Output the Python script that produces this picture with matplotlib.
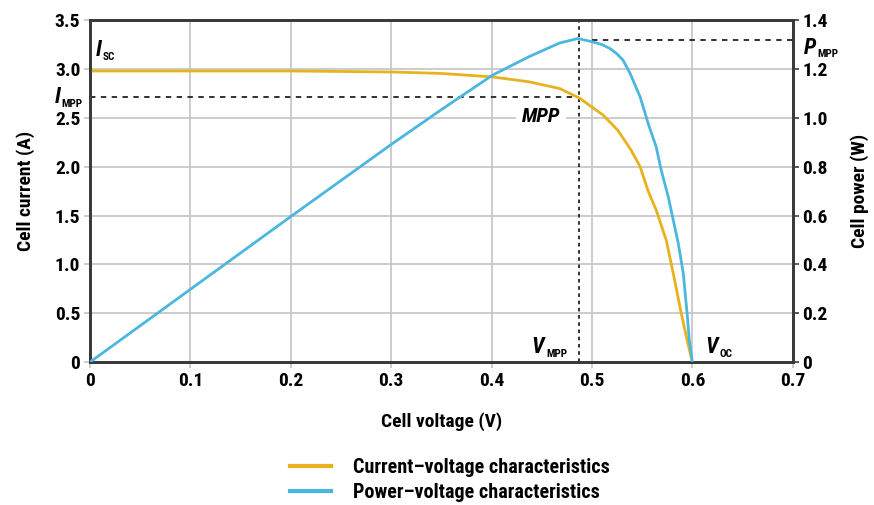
import matplotlib.pyplot as plt
from matplotlib import font_manager

# narrow bold face if one is installed, else DejaVu Sans
names = {f.name for f in font_manager.fontManager.ttflist}
fam = "DejaVu Sans"
for kand in ["Liberation Sans Narrow", "Roboto Condensed", "Open Sans Condensed", "DejaVu Sans Condensed"]:
    if kand in names:
        fam = kand
        break
plt.rcParams["font.family"] = [fam, "DejaVu Sans"]
plt.rcParams["font.weight"] = "bold"
plt.rcParams["axes.labelweight"] = "bold"
plt.rcParams["font.stretch"] = "condensed"

# data
v_iv = [0, 0.1, 0.2, 0.25, 0.3, 0.35, 0.4, 0.437, 0.468, 0.488, 0.5, 0.511, 0.526, 0.539,
        0.548, 0.556, 0.564, 0.574, 0.581, 0.589, 0.5948, 0.6]
strom = [2.98, 2.98, 2.98, 2.975, 2.97, 2.955, 2.92, 2.87, 2.80, 2.70, 2.61, 2.53, 2.37, 2.17,
         2.00, 1.75, 1.556, 1.249, 0.908, 0.498, 0.225, 0.0]

v_pv = [0, 0.1, 0.2, 0.3, 0.349, 0.401, 0.437, 0.468, 0.486, 0.501, 0.51, 0.518, 0.525, 0.531,
        0.538, 0.548, 0.556, 0.564, 0.569, 0.576, 0.586, 0.591, 0.5948, 0.597, 0.6]
vykon = [0, 0.298, 0.596, 0.891, 1.031, 1.175, 1.25, 1.307, 1.325, 1.311, 1.30, 1.284, 1.262, 1.236,
         1.182, 1.086, 0.977, 0.881, 0.786, 0.677, 0.486, 0.363, 0.199, 0.09, 0.0]

v_mpp = 0.487
i_mpp = 2.715
p_mpp = 1.32

x_ticks = [0, 0.1, 0.2, 0.3, 0.4, 0.5, 0.6, 0.7]
x_labels = ["0", "0.1", "0.2", "0.3", "0.4", "0.5", "0.6", "0.7"]
y_ticks = [0, 0.5, 1.0, 1.5, 2.0, 2.5, 3.0, 3.5]
y_labels = ["0", "0.5", "1.0", "1.5", "2.0", "2.5", "3.0", "3.5"]
p_ticks = [0, 0.2, 0.4, 0.6, 0.8, 1.0, 1.2, 1.4]
p_labels = ["0", "0.2", "0.4", "0.6", "0.8", "1.0", "1.2", "1.4"]

zluta = "#E8B21E"
modra = "#4BB7DE"
tmava = "#3a3a3a"

fig = plt.figure(figsize=(8.74, 5.05), dpi=100)
ax = fig.add_axes([0.103, 0.283, 0.804, 0.677])
ax2 = ax.twinx()

ax.set_xlim(0, 0.7)
ax.set_ylim(0, 3.5)
ax2.set_ylim(0, 1.4)

ax.set_xticks(x_ticks, x_labels, fontsize=14)
ax.set_yticks(y_ticks, y_labels, fontsize=14)
ax2.set_yticks(p_ticks, p_labels, fontsize=14)
ax.grid(True, color="#c4c4c4", linewidth=1.2)
ax.set_axisbelow(True)
ax.tick_params(axis="both", color="#c4c4c4", length=4, width=1.2, pad=3)
ax2.tick_params(axis="y", color=tmava, length=4, width=1.2, pad=3)

for s in ["left", "top", "right", "bottom"]:
    ax.spines[s].set_color(tmava)
    ax.spines[s].set_linewidth(2)
    ax2.spines[s].set_color(tmava)
    ax2.spines[s].set_linewidth(2)

# MPP guides
ax.axvline(v_mpp, color="#222222", linestyle=(0, (2, 2)), linewidth=1.3, zorder=3)
ax.plot([0, v_mpp], [i_mpp, i_mpp], color="#222222", linestyle=(0, (3, 3)), linewidth=1.3, zorder=3)
ax2.plot([0.5, 0.7], [p_mpp, p_mpp], color="#222222", linestyle=(0, (3, 3)), linewidth=1.3, zorder=3)

ax.plot(v_iv, strom, color=zluta, linewidth=2, zorder=4)
ax2.plot(v_pv, vykon, color=modra, linewidth=2, zorder=4)


def popisek(x, y, pismeno, index, dx):
    # italic letter plus small subscript
    ax.text(x, y, pismeno, fontsize=16, style="italic", ha="left", va="center", clip_on=False)
    ax.annotate(index, (x, y), xytext=(dx, -5), textcoords="offset points", fontsize=8,
                ha="left", va="center", annotation_clip=False)


popisek(0.006, 3.19, "I", "SC", 5)
popisek(-0.035, i_mpp, "I", "MPP", 5)
popisek(0.711, 3.22, "P", "MPP", 10)
popisek(0.440, 0.15, "V", "MPP", 10.5)
popisek(0.613, 0.15, "V", "OC", 10.5)
ax.text(0.449, 2.51, "MPP", fontsize=15, style="italic", ha="center", va="center",
        bbox=dict(facecolor="white", edgecolor="none", pad=4), zorder=2)

ax.set_xlabel("Cell voltage (V)", fontsize=14, labelpad=16)
ax.set_ylabel("Cell current (A)", fontsize=14, labelpad=14)
ax2.set_ylabel("Cell power (W)", fontsize=14, rotation=90, labelpad=16)

h1 = plt.Line2D([], [], color=zluta, linewidth=3)
h2 = plt.Line2D([], [], color=modra, linewidth=3)
fig.legend([h1, h2], ["Current\u2013voltage characteristics", "Power\u2013voltage characteristics"],
           loc="center", bbox_to_anchor=(0.515, 0.05), frameon=False, fontsize=14.5,
           handlelength=2, handletextpad=1.1, labelspacing=0.3)

fig.savefig("out.png", dpi=100)
